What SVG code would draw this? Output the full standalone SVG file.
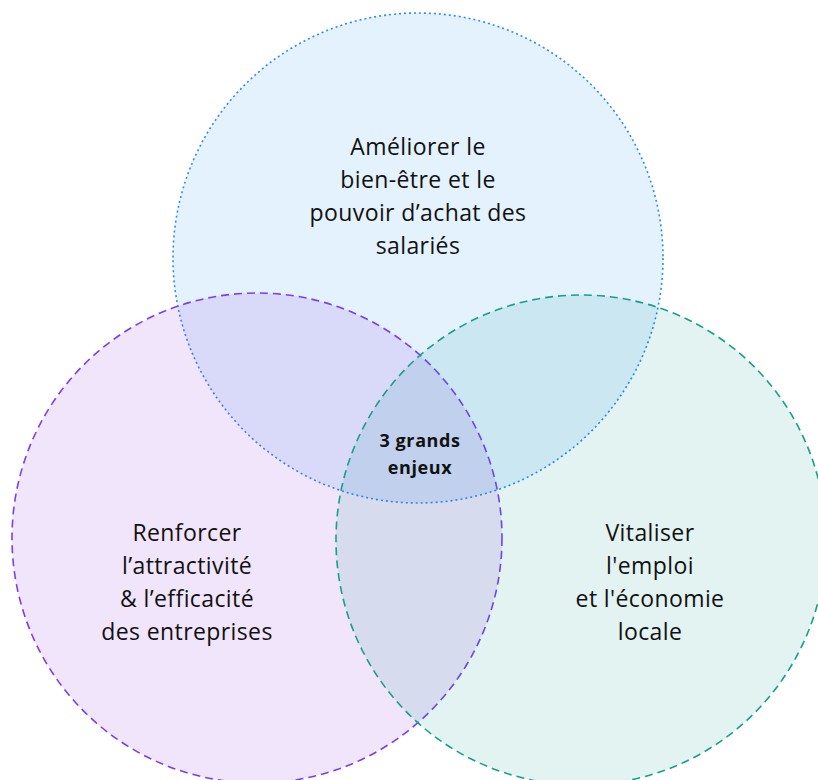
<svg xmlns="http://www.w3.org/2000/svg" width="818" height="780" viewBox="0 0 818 780">
<style>
.c{stroke-width:1.6}
.t{font-family:"Open Sans","Noto Sans","Liberation Sans",sans-serif;font-size:23px;letter-spacing:0.4px;fill:#111;text-anchor:middle}
.b{font-family:"Open Sans","Noto Sans","Liberation Sans",sans-serif;font-size:18px;letter-spacing:0.6px;font-weight:700;fill:#111;text-anchor:middle}
</style>
<rect width="818" height="780" fill="#fff"/>
<g id="circle-top">
<circle class="c" cx="418" cy="258" r="245" fill="#2196f3" fill-opacity="0.12" stroke="#2a8cf5" stroke-dasharray="2 3"/>
</g>
<g id="circle-left">
<circle class="c" cx="257" cy="538" r="245" fill="#8a2be2" fill-opacity="0.12" stroke="#7a3ef2" stroke-dasharray="8 5"/>
</g>
<g id="circle-right">
<circle class="c" cx="581" cy="540" r="245" fill="#009688" fill-opacity="0.11" stroke="#15a08a" stroke-dasharray="8 5"/>
</g>
<g id="label-top">
<text class="t" x="418" y="155">Améliorer le</text>
<text class="t" x="418" y="188">bien-être et le</text>
<text class="t" x="418" y="221">pouvoir d’achat des</text>
<text class="t" x="418" y="254">salariés</text>
</g>
<g id="label-left">
<text class="t" x="187" y="541">Renforcer</text>
<text class="t" x="187" y="574">l’attractivité</text>
<text class="t" x="187" y="607">&amp; l’efficacité</text>
<text class="t" x="187" y="640">des entreprises</text>
</g>
<g id="label-right">
<text class="t" x="650" y="541">Vitaliser</text>
<text class="t" x="650" y="574">l'emploi</text>
<text class="t" x="650" y="607">et l'économie</text>
<text class="t" x="650" y="640">locale</text>
</g>
<g id="label-center">
<text class="b" x="420" y="447">3 grands</text>
<text class="b" x="420" y="474">enjeux</text>
</g>
<g id="connectors"/>
</svg>
